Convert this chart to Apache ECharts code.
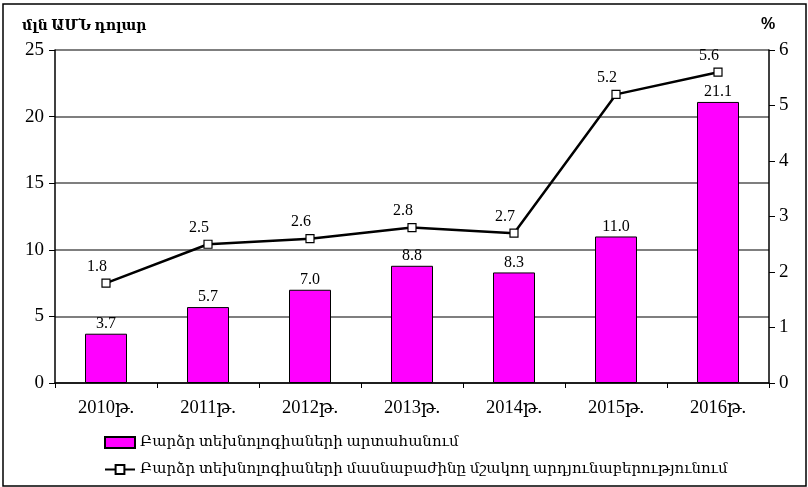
<!DOCTYPE html>
<html>
<head>
<meta charset="utf-8">
<script src="https://cdn.jsdelivr.net/npm/echarts@6/dist/echarts.min.js"></script>
<style>
html,body{margin:0;padding:0;background:#fff;}
#chart{width:808px;height:487px;}
</style>
</head>
<body>
<div id="chart"></div>
<script>
const categories = ['2010թ.', '2011թ.', '2012թ.', '2013թ.', '2014թ.', '2015թ.', '2016թ.'];
const exportValues = [3.7, 5.7, 7.0, 8.8, 8.3, 11.0, 21.1];
const shareValues = [1.8, 2.5, 2.6, 2.8, 2.7, 5.2, 5.6];
const seriesNames = ['Բարձր տեխնոլոգիաների արտահանում', 'Բարձր տեխնոլոգիաների մասնաբաժինը մշակող արդյունաբերությունում'];
const leftUnit = 'մլն ԱՄՆ դոլար';
const rightUnit = '%';

const FONT = "'Liberation Serif', 'DejaVu Serif', serif";
const chart = echarts.init(document.getElementById('chart'), null, {renderer: 'canvas'});
chart.setOption({
  animation: false,
  backgroundColor: '#fff',
  textStyle: {fontFamily: FONT},
  graphic: [
    {type: 'rect', shape: {x: 3, y: 4, width: 803, height: 482}, style: {fill: 'none', stroke: '#000', lineWidth: 1.5}, silent: true},
    {type: 'text', left: 22, top: 19, style: {text: leftUnit, font: "bold 14px " + FONT, fill: '#000'}},
    {type: 'text', left: 761, top: 17, style: {text: rightUnit, font: "bold 16px 'Liberation Sans', Arial, sans-serif", fill: '#000'}}
  ],
  grid: {left: 55, right: 39, top: 50, bottom: 104, containLabel: false},
  legend: {
    orient: 'vertical', left: 99, top: 430, itemGap: 12, itemWidth: 30, itemHeight: 11,
    textStyle: {fontFamily: FONT, fontSize: 15, color: '#000'},
    data: [{name: seriesNames[0], icon: 'rect'}, {name: seriesNames[1]}]
  },
  xAxis: {
    type: 'category', data: categories,
    axisLine: {lineStyle: {color: '#000', width: 1.5}},
    axisTick: {show: true, length: 5, lineStyle: {color: '#000'}},
    axisLabel: {color: '#000', fontSize: 18.5, fontFamily: FONT, margin: 16}
  },
  yAxis: [
    {type: 'value', min: 0, max: 25, interval: 5, position: 'left',
     axisLine: {show: true, lineStyle: {color: '#000', width: 1.5}},
     axisTick: {show: true, length: 6, lineStyle: {color: '#000'}},
     axisLabel: {color: '#000', fontSize: 19, fontFamily: FONT, margin: 11},
     splitLine: {show: true, lineStyle: {color: '#555', width: 1.5}}},
    {type: 'value', min: 0, max: 6, interval: 1, position: 'right',
     axisLine: {show: true, lineStyle: {color: '#000', width: 1.5}},
     axisTick: {show: true, length: 6, inside: false, lineStyle: {color: '#000'}},
     axisLabel: {color: '#000', fontSize: 19, fontFamily: FONT, margin: 10},
     splitLine: {show: false}}
  ],
  series: [
    {name: seriesNames[0], type: 'bar', data: exportValues, yAxisIndex: 0, barWidth: 42,
     itemStyle: {color: '#ff00ff', borderColor: '#000', borderWidth: 1},
     label: {show: true, position: 'top', distance: 2, color: '#000', fontSize: 16, fontFamily: FONT,
             formatter: p => p.value.toFixed(1)}},
    {name: seriesNames[1], type: 'line', data: shareValues, yAxisIndex: 1,
     symbol: 'rect', symbolSize: 8,
     lineStyle: {color: '#000', width: 2.5},
     itemStyle: {color: '#fff', borderColor: '#000', borderWidth: 1.2},
     label: {show: true, position: 'top', distance: 4, offset: [-9, 0], color: '#000', fontSize: 16, fontFamily: FONT,
             formatter: p => p.value.toFixed(1)}}
  ]
});
</script>
</body>
</html>
